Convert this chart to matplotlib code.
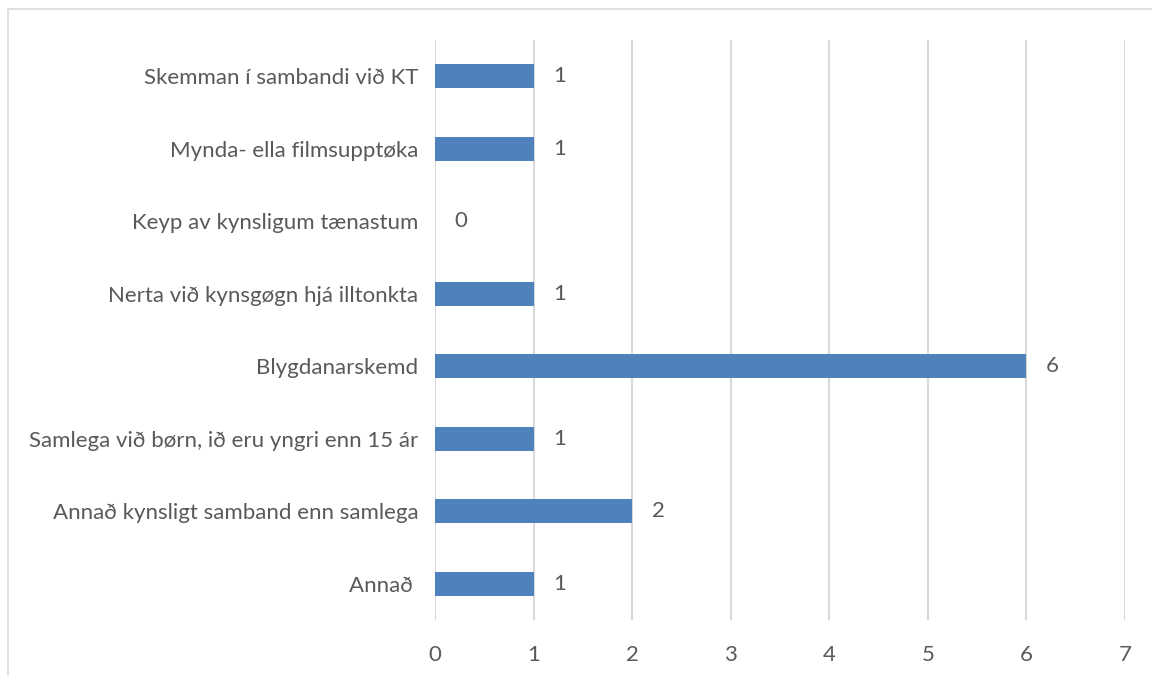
import matplotlib.pyplot as plt
from matplotlib.patches import Rectangle

categories = [
    'Annað ',
    'Annað kynsligt samband enn samlega',
    'Samlega við børn, ið eru yngri enn 15 ár',
    'Blygdanarskemd',
    'Nerta við kynsgøgn hjá illtonkta',
    'Keyp av kynsligum tænastum',
    'Mynda- ella filmsupptøka',
    'Skemman í sambandi við KT',
]
values = [1, 2, 1, 6, 1, 0, 1, 1]
xticks = [0, 1, 2, 3, 4, 5, 6, 7]

BAR = '#4F81BD'
GRID = '#D9D9D9'
TXT = '#595959'

plt.rcParams['font.family'] = ['Lato', 'DejaVu Sans']

fig = plt.figure(figsize=(11.52, 6.75), dpi=100)
ax = fig.add_axes([435 / 1152, 1 - 620 / 675, 690 / 1152, 580 / 675])

# light chart-area border (top/left visible, rest cropped off)
fig.patches.append(Rectangle((8 / 1152, -0.1), 1.2, 1 - 9 / 675 + 0.1,
                             transform=fig.transFigure, fill=False,
                             edgecolor=GRID, lw=1.2))

y = list(range(len(categories)))
ax.barh(y, values, height=0.33, color=BAR, zorder=3)
for yi, v in zip(y, values):
    ax.text(v + 0.2, yi, str(v), va='center', ha='left', fontsize=16, color=TXT)

ax.set_xlim(0, 7)
ax.set_ylim(-0.5, len(categories) - 0.5)
ax.set_xticks(xticks)
ax.set_yticks(y)
ax.set_yticklabels(categories)
ax.tick_params(axis='both', length=0, labelsize=16, colors=TXT)
ax.tick_params(axis='y', pad=12)
ax.tick_params(axis='x', pad=18)
ax.grid(axis='x', color=GRID, lw=1.5, zorder=0)
for s in ax.spines.values():
    s.set_visible(False)

fig.savefig('out.png', dpi=100)
